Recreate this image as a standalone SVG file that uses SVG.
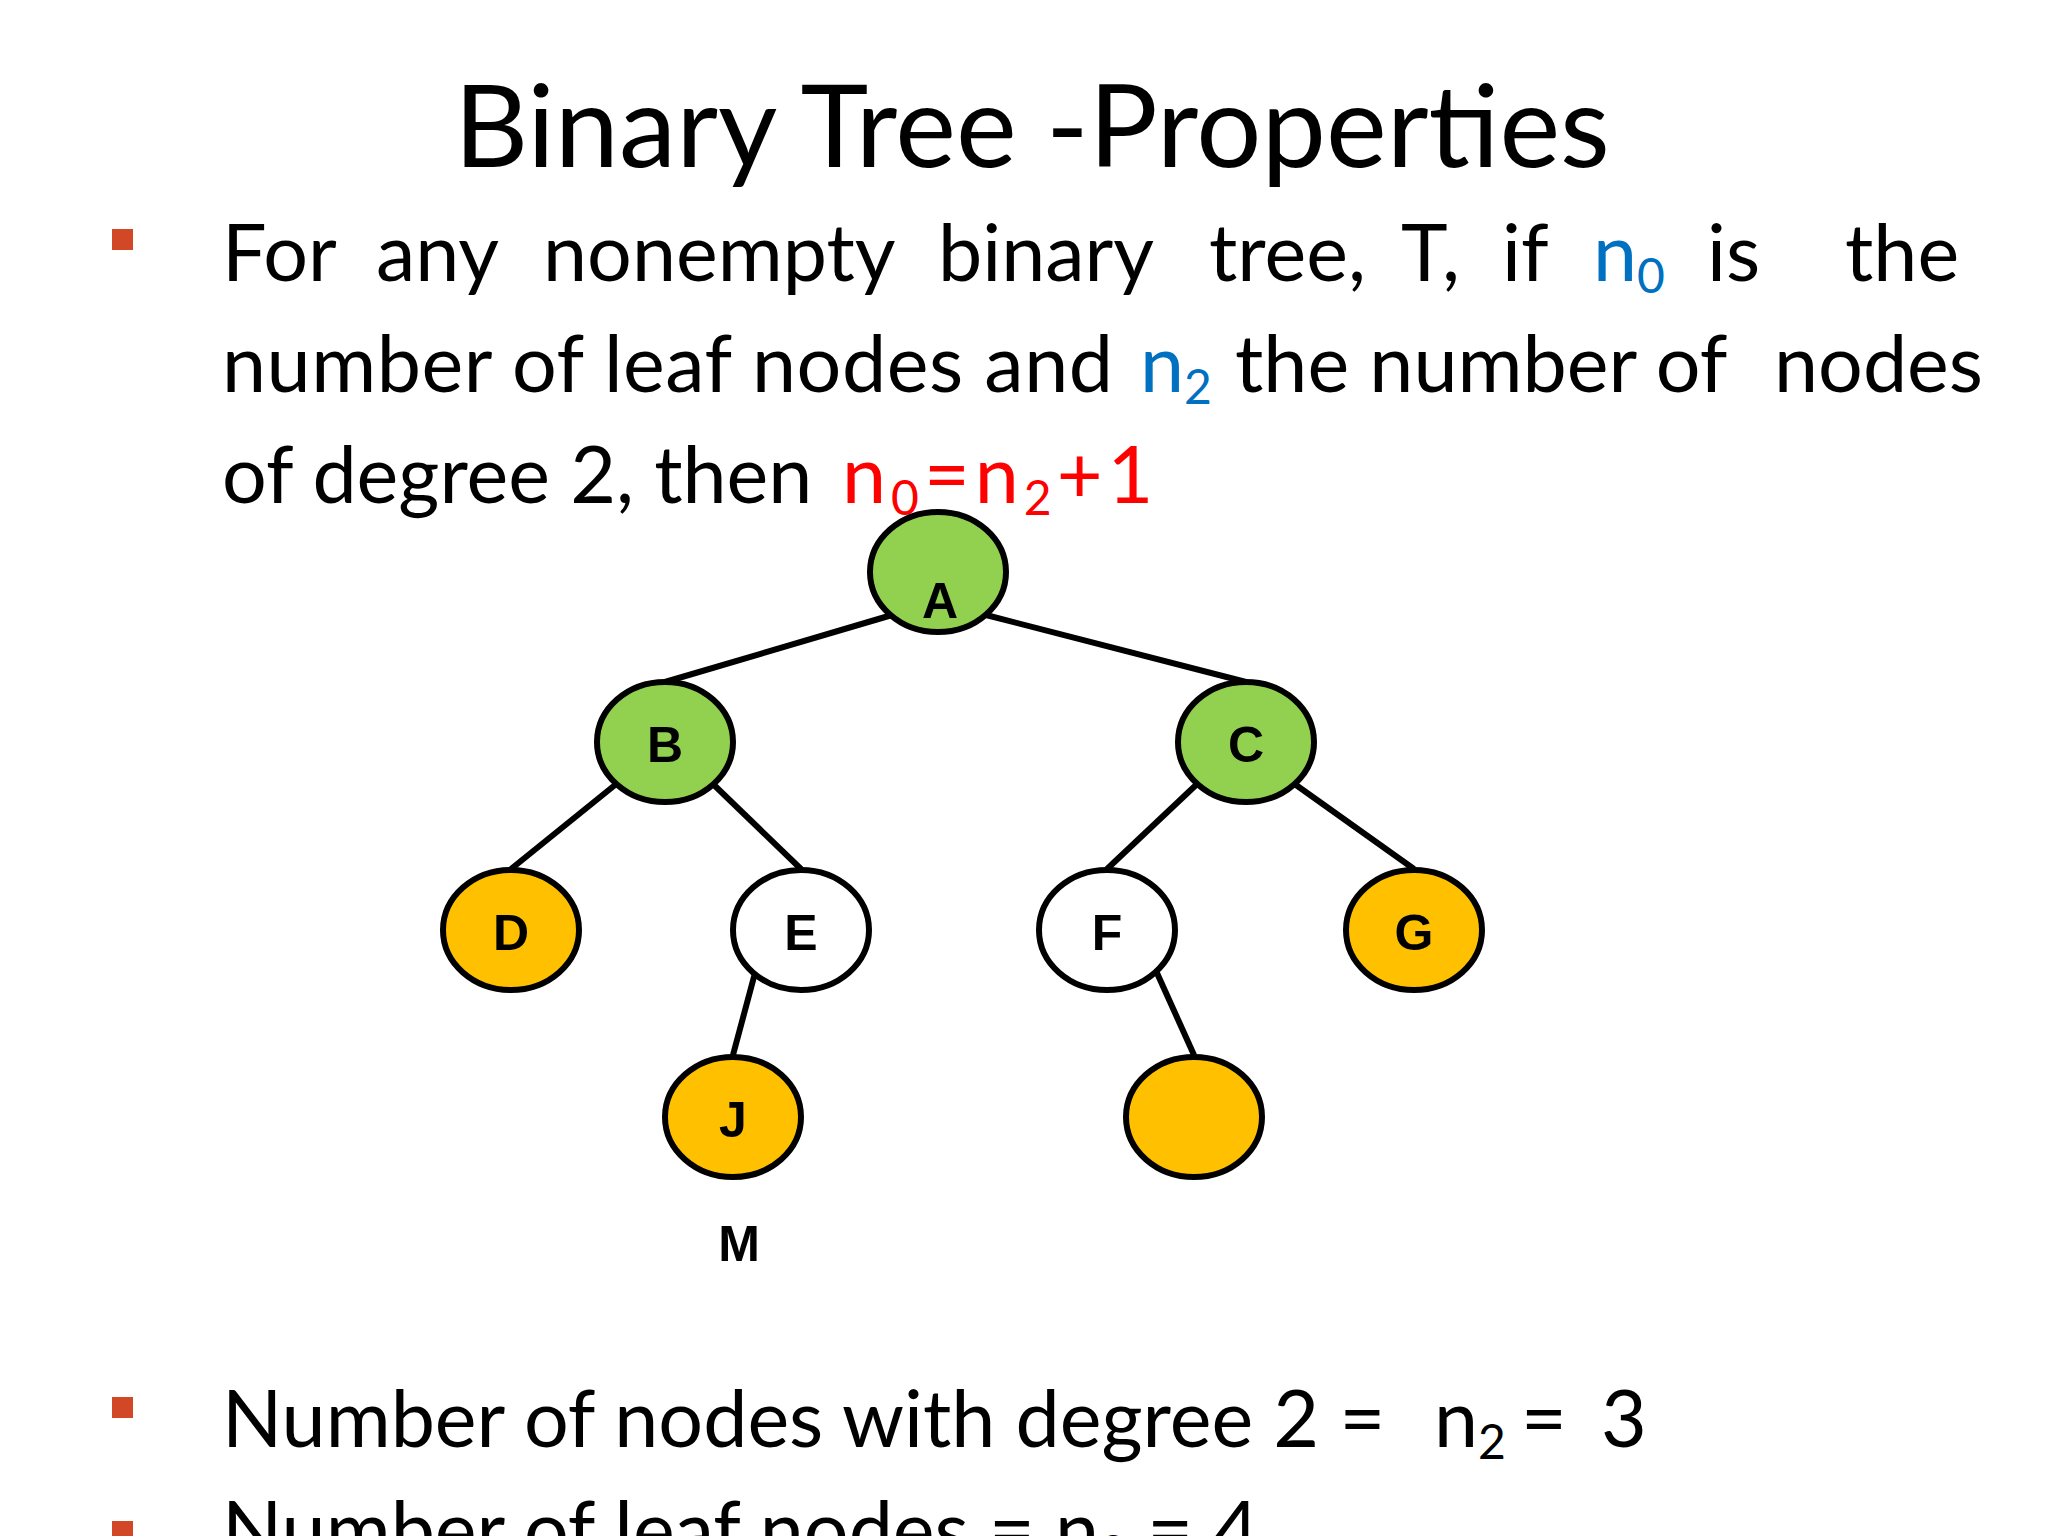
<svg xmlns="http://www.w3.org/2000/svg" width="2048" height="1536" viewBox="0 0 2048 1536">
<style>
.t{font-family:Lato,"Open Sans",sans-serif;font-size:79px;fill:#000}
.b{fill:#0070C0}.r{fill:#FF0000}
.n{stroke:#000;stroke-width:6}
.l{font-family:"Liberation Sans",Arial,sans-serif;font-weight:bold;font-size:50px;text-anchor:middle;fill:#000}
.e{stroke:#000;stroke-width:6;fill:none}
.bul{fill:#D24726}
</style>
<rect width="2048" height="1536" fill="#fff"/>
<text x="1032" y="167" font-family="Lato,'Open Sans',sans-serif" font-size="115" text-anchor="middle">Binary Tree -Properties</text>
<rect class="bul" x="112" y="229" width="21" height="21"/>
<g class="t">
<text x="222" y="281">For</text><text x="376" y="281">any</text><text x="543" y="281">nonempty</text><text x="938" y="281">binary</text><text x="1209" y="281">tree,</text><text x="1401" y="281">T,</text><text x="1502" y="281">if</text>
<text x="1593" y="281" class="b">n<tspan font-size="48" dy="12">0</tspan></text>
<text x="1707" y="281">is</text><text x="1845" y="281">the</text>
<text x="222" y="392" textLength="891">number of leaf nodes and</text>
<text x="1140" y="392" class="b">n<tspan font-size="48" dy="12">2</tspan></text>
<text x="1235" y="392">the number of</text><text x="1774" y="392">nodes</text>
<text x="222" y="503">of degree 2, then</text>
<text x="842" y="503" class="r" letter-spacing="5">n<tspan font-size="48" dy="12">0</tspan><tspan dy="-12">=n</tspan><tspan font-size="48" dy="12">2</tspan><tspan dy="-12">+1</tspan></text>
</g>
<g id="connectors">
<line class="e" x1="892" y1="615" x2="665" y2="682"/>
<line class="e" x1="986" y1="615" x2="1246" y2="682"/>
<line class="e" x1="615" y1="785" x2="511" y2="869"/>
<line class="e" x1="714" y1="785" x2="801" y2="869"/>
<line class="e" x1="1196" y1="785" x2="1107" y2="869"/>
<line class="e" x1="1296" y1="785" x2="1414" y2="869"/>
<line class="e" x1="755" y1="973" x2="733" y2="1055"/>
<line class="e" x1="1157" y1="973" x2="1194" y2="1055"/>
</g>
<g id="A"><ellipse class="n" cx="938" cy="572" rx="68" ry="60" fill="#92D050"/><text class="l" x="940" y="618">A</text></g>
<g id="B"><ellipse class="n" cx="665" cy="742" rx="68" ry="60" fill="#92D050"/><text class="l" x="665" y="762">B</text></g>
<g id="C"><ellipse class="n" cx="1246" cy="742" rx="68" ry="60" fill="#92D050"/><text class="l" x="1246" y="762">C</text></g>
<g id="D"><ellipse class="n" cx="511" cy="930" rx="68" ry="60" fill="#FFC000"/><text class="l" x="511" y="950">D</text></g>
<g id="E"><ellipse class="n" cx="801" cy="930" rx="68" ry="60" fill="#fff"/><text class="l" x="801" y="950">E</text></g>
<g id="F"><ellipse class="n" cx="1107" cy="930" rx="68" ry="60" fill="#fff"/><text class="l" x="1107" y="950">F</text></g>
<g id="G"><ellipse class="n" cx="1414" cy="930" rx="68" ry="60" fill="#FFC000"/><text class="l" x="1414" y="950">G</text></g>
<g id="J"><ellipse class="n" cx="733" cy="1117" rx="68" ry="60" fill="#FFC000"/><text class="l" x="733" y="1137">J</text></g>
<g id="K"><ellipse class="n" cx="1194" cy="1117" rx="68" ry="60" fill="#FFC000"/></g>
<text class="l" x="739" y="1261">M</text>
<rect class="bul" x="112" y="1397" width="21" height="21"/>
<g class="t">
<text x="222" y="1447">Number of nodes with degree 2 =</text>
<text x="1434" y="1447">n<tspan font-size="48" dy="12">2</tspan></text>
<text x="1521" y="1447">=</text><text x="1601" y="1447">3</text>
</g>
<rect class="bul" x="112" y="1521" width="21" height="21"/>
<text class="t" x="222" y="1558">Number of leaf nodes = n<tspan font-size="48" dy="12">0</tspan><tspan dy="-12"> = 4</tspan></text>
</svg>
